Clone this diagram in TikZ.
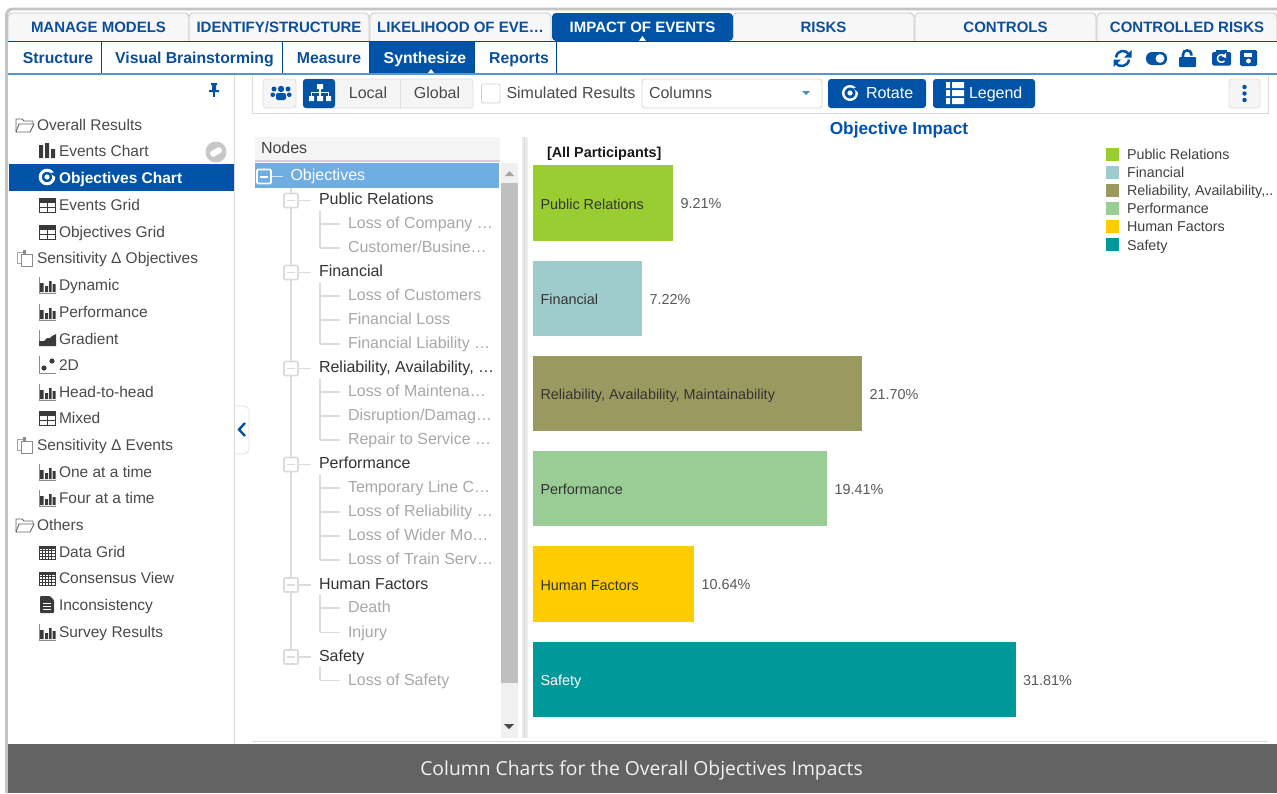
\documentclass[tikz,border=0pt]{standalone}
\usepackage{fontspec}
\setmainfont{Liberation Sans}
\newfontfamily\capfont{Open Sans}
\newcommand{\fsz}[1]{\fontsize{#1}{#1}\selectfont}
\definecolor{ahpblue}{HTML}{0053A6}
\definecolor{tabtext}{HTML}{0B4F9C}
\definecolor{framegray}{HTML}{C4C4C4}
\definecolor{menutext}{HTML}{4A4A4A}
\definecolor{treegray}{HTML}{DCDCDC}
\definecolor{childtext}{HTML}{A8A8A8}
\definecolor{iconink}{HTML}{3A3A3A}
\definecolor{rowblue}{HTML}{6FADE3}
\definecolor{bandgray}{HTML}{636363}
\definecolor{safec}{HTML}{009999}
\tikzset{
  txt/.style={inner sep=0pt,outer sep=0pt,text height=14pt,text depth=3pt},
  tabbox/.style={draw=framegray,line width=.8pt,fill=white!97!black,rounded corners=4pt},
  tablabel/.style={txt,font=\fsz{15}\bfseries,text=tabtext},
  sublabel/.style={txt,font=\fsz{15.8}\bfseries,text=tabtext},
  sep/.style={draw=ahpblue!85!black,line width=.9pt},
  menuitem/.style={txt,anchor=west,font=\fsz{15.5},text=menutext},
  toollabel/.style={txt,font=\fsz{16},text=menutext},
  toolbtn/.style={draw=black!12,line width=.8pt,fill=black!4,rounded corners=3pt},
  treeparent/.style={txt,anchor=west,font=\fsz{16},text=black!80},
  treechild/.style={txt,anchor=west,font=\fsz{16},text=childtext},
  treeline/.style={draw=treegray,line width=1.1pt},
  treebox/.style={draw=treegray,line width=1.6pt,fill=white,rounded corners=1pt,minimum size=14pt,inner sep=0pt,
    path picture={\draw[treegray,line width=1.6pt] ([xshift=-4pt]path picture bounding box.center) -- ([xshift=4pt]path picture bounding box.center);}},
  barlabel/.style={txt,anchor=west,font=\fsz{14.4},text=black!80},
  pct/.style={txt,anchor=west,font=\fsz{14.4},text=black!65},
  legendtext/.style={txt,anchor=west,font=\fsz{14.3},text=black!75},
  ic/.style={iconink},
}
% icons
\newcommand{\icbars}[2]{\begin{scope}[shift={(#1,#2)}]
 \draw[line width=.8pt,black!45] (-8,-8) -- (-8,8) -- (9,8);
 \fill[ic] (-7,-2) rectangle (-3.5,7) (-2,1) rectangle (1,7) (2,-4) rectangle (4.5,7) (5.5,-1) rectangle (8.5,7);
\end{scope}}
\newcommand{\ictable}[2]{\begin{scope}[shift={(#1,#2)}]
 \draw[ic,line width=1pt] (-8,-7) rectangle (8,7) (-8,-2.5) -- (8,-2.5) (-8,2.5) -- (8,2.5) (0,-7) -- (0,7);
 \fill[ic] (-8,-7) rectangle (8,-3.5);
\end{scope}}
\newcommand{\icgrid}[2]{\begin{scope}[shift={(#1,#2)}]
 \draw[ic,line width=.7pt] (-8,-6) rectangle (8,7);
 \foreach \q in {-5,-2,1,4} \draw[ic,line width=.8pt] (\q,-6) -- (\q,7);
 \foreach \q in {-1.5,1.5,4.5} \draw[ic,line width=.8pt] (-8,\q) -- (8,\q);
 \fill[ic] (-8,-6) rectangle (8,-3);
\end{scope}}
\newcommand{\icfolder}[2]{\begin{scope}[shift={(#1,#2)}]
 \draw[black!60,line width=.9pt,line join=round] (-9,7) -- (-9,-6) -- (-3,-6) -- (-1,-4) -- (8,-4) -- (8,-1);
 \draw[black!60,line width=.9pt,line join=round] (-9,7) -- (5,7) -- (9,-1) -- (-6,-1) -- (-9,7);
\end{scope}}
\newcommand{\icclip}[2]{\begin{scope}[shift={(#1,#2)}]
 \draw[black!35,line width=.9pt] (-8,-6) rectangle (-1,5);
 \draw[black!45,line width=.9pt,fill=white] (-4,-4) rectangle (7,8);
 \fill[black!45] (-2,-8) rectangle (1,-3);
\end{scope}}
\begin{document}
\begin{tikzpicture}[x=1pt,y=-1pt]
\useasboundingbox (0,0) rectangle (1277,793);
\fill[white] (0,0) rectangle (1277,793);
% outer frame
\draw[framegray,line width=2.8pt,rounded corners=6pt] (6.5,793) -- (6.5,9) -- (1277,9);
% main tabs
\foreach \nm/\xa/\xb/\lab in {t1/8/189/{MANAGE MODELS},t2/189/369/{IDENTIFY/STRUCTURE},t3/370/551/{LIKELIHOOD OF EVE…},t5/733/914/{RISKS},t6/915/1096/{CONTROLS},t7/1097/1277/{CONTROLLED RISKS}}{
  \draw[tabbox] (\xa,41) -- (\xa,13) -- (\xb,13) -- (\xb,41);
  \node[tablabel] (\nm) at ({(\xa+\xb)/2},26.5) {\lab};
}
\fill[ahpblue,rounded corners=4pt] (552,41) -- (552,13) -- (733,13) -- (733,41) -- cycle;
\node[tablabel,text=white] (t4) at (642.5,26.5) {IMPACT OF EVENTS};
\fill[white] (639,41) -- (642.5,36) -- (646,41) -- cycle;
\draw[ahpblue!85!black,line width=1pt] (8,41.5) -- (1277,41.5);
% sub tabs
\fill[ahpblue] (369,42) rectangle (474,73);
\foreach \q in {101,282,369,474,556} \draw[sep] (\q,42) -- (\q,73);
\draw[rowblue!75!ahpblue,line width=1.6pt] (8,74) -- (1277,74);
\node[sublabel] (s1) at (58,57.5) {Structure};
\node[sublabel] (s2) at (194.5,57.5) {Visual Brainstorming};
\node[sublabel] (s3) at (329,57.5) {Measure};
\node[sublabel,text=white] (s4) at (425,57.5) {Synthesize};
\node[sublabel] (s5) at (519,57.5) {Reports};
\fill[white] (428,73) -- (431,69) -- (434,73) -- cycle;
% right top icons
\begin{scope}[ahpblue]
 \draw[line width=2.5pt] (1116,57.5) .. controls (1117,49.5) and (1126,49.5) .. (1128.5,54);
 \draw[line width=2.5pt] (1129,59.6) .. controls (1128,67.5) and (1118,67.5) .. (1115.5,63);
 \fill (1131.5,50) -- (1131.5,57.5) -- (1124,57.5) -- cycle;
 \fill (1113.5,67) -- (1113.5,59.5) -- (1121,59.5) -- cycle;
 \fill[rounded corners=6pt] (1146,52) rectangle (1167,65);
 \fill[white] (1160,58.5) circle (4.4);
 \fill[rounded corners=1pt] (1179,57) rectangle (1196,67);
 \draw[line width=2.6pt] (1183,58) -- (1183,54.5) .. controls (1183,49) and (1191.4,49) .. (1191.4,54.5) -- (1191.4,55.5);
 \fill[rounded corners=1.5pt] (1212,52) rectangle (1231,65.5);
 \fill (1216,52.5) rectangle (1227,49.5);
 \draw[white,line width=1.5pt] (1224.5,56) .. controls (1222,53.5) and (1217.5,55) .. (1217.5,58.5) .. controls (1217.5,62) and (1222,63.5) .. (1224.5,61);
 \fill[white] (1226,53) -- (1226,58) -- (1222,56.5) -- cycle;
 \fill[rounded corners=1.5pt] (1240,50) rectangle (1257,66);
 \fill[white] (1244,52.5) rectangle (1252,56.5);
 \fill[white] (1248.5,61) circle (2.4);
\end{scope}
% sidebar
\draw[black!15,line width=1pt] (234.5,75) -- (234.5,744);
\begin{scope}[shift={(214,90)}]
 \fill[ahpblue] (-3,-7) rectangle (3,-5) (-2,-5) rectangle (2,0) (-5,0) rectangle (5,2);
 \fill[ahpblue] (-.8,2) rectangle (.8,7);
\end{scope}
\fill[ahpblue] (9,164) rectangle (234,190.5);
\foreach \nm/\yy/\lab in {m1/124.5/{Overall Results},m7/257.5/{Sensitivity Δ Objectives},m14/445/{Sensitivity Δ Events},m17/525/{Others}}{
  \node[menuitem] (\nm) at (37,\yy) {\lab};
}
\foreach \nm/\yy/\lab in {m2/151/{Events Chart},m4/204.5/{Events Grid},m5/231.5/{Objectives Grid},m8/285/{Dynamic},m9/311.5/{Performance},m10/338.5/{Gradient},m11/365/{2D},m12/391.5/{Head-to-head},m13/418/{Mixed},m15/471.5/{One at a time},m16/498/{Four at a time},m18/552/{Data Grid},m19/578/{Consensus View},m20/605/{Inconsistency},m21/632/{Survey Results}}{
  \node[menuitem] (\nm) at (59,\yy) {\lab};
}
\node[menuitem,font=\fsz{15.5}\bfseries,text=white] (m3) at (59,177.5) {Objectives Chart};
\icfolder{25}{125}\icfolder{25}{525}\icclip{25}{258}\icclip{25}{445}
\fill[ic] (39,145) rectangle (43,158) (45,143) rectangle (49,158) (51,149) rectangle (55,158);
\begin{scope}[shift={(47,177)}]
 \draw[white,line width=3pt] (0,0) circle (6.8);
 \fill[white] (0,0) circle (2.6);
 \fill[ahpblue] (3,-4) -- (10,-5) -- (10,1) -- cycle;
\end{scope}
\ictable{47}{205}\ictable{47}{232}\ictable{47}{418}
\icbars{47}{285}\icbars{47}{312}\icbars{47}{392}\icbars{47}{472}\icbars{47}{498}\icbars{47}{632}
\begin{scope}[shift={(47,339)}]
 \draw[black!45,line width=.8pt] (-8,-9) -- (-8,7);
 \fill[ic] (-8,7) -- (-8,2) -- (-3,2) -- (0,-1) -- (3,-1) -- (5,-3) -- (9,-5) -- (9,7) -- cycle;
\end{scope}
\begin{scope}[shift={(47,365)}]
 \draw[black!45,line width=.8pt] (-8,-9) -- (-8,8) -- (9,8);
 \fill[ic] (-3,3) circle (2.6) (5,-4) circle (2.6);
\end{scope}
\icgrid{47}{552}\icgrid{47}{578}
\begin{scope}[shift={(47,605)}]
 \fill[ic,rounded corners=1pt] (-7,-9) -- (3,-9) -- (7,-5) -- (7,8) -- (-7,8) -- cycle;
 \draw[white,line width=.9pt] (-4,-2) -- (4,-2) (-4,1) -- (4,1) (-4,4) -- (4,4);
\end{scope}
\fill[black!22] (216,152) circle (10.5);
\begin{scope}[shift={(216,152)},rotate=30]
 \fill[white,rounded corners=1.5pt] (-6,-3) rectangle (6,3);
\end{scope}
% collapse handle
\draw[black!12,line width=.8pt,fill=white,rounded corners=5pt] (235,406) -- (249,406) -- (249,454) -- (235,454);
\draw[ahpblue,line width=2.4pt] (245,423) -- (239,429.5) -- (245,436);
% toolbar
\draw[black!15,line width=.9pt] (252,76) -- (252,113.5) -- (1268,113.5) -- (1268,76);
\draw[toolbtn] (263,79) rectangle (296,108);
\begin{scope}[shift={(281,93)},ahpblue]
 \fill (0,-4) circle (3.2) (-7,-4) circle (2.5) (7,-4) circle (2.5);
 \fill[rounded corners=2pt] (-5,7) rectangle (5,0) (-10.5,4) rectangle (-6,-.5) (6,4) rectangle (10.5,-.5);
\end{scope}
\draw[toolbtn] (303,79) rectangle (473,108);
\fill[ahpblue,rounded corners=3pt] (303,79) rectangle (335,108);
\draw[black!12,line width=.8pt] (400.5,79) -- (400.5,108);
\begin{scope}[shift={(320,93)},white]
 \fill (-3,-9) rectangle (3,-4) (-11,3) rectangle (-6,8) (-3,3) rectangle (3,8) (6,3) rectangle (11,8);
 \draw[line width=1.3pt] (0,-4) -- (0,3) (-8.5,3) -- (-8.5,-.5) -- (8.5,-.5) -- (8.5,3);
\end{scope}
\node[toollabel] (local) at (368,93) {Local};
\node[toollabel] (global) at (437,93) {Global};
\draw[black!18,line width=.9pt,rounded corners=2pt,fill=white] (481.5,84) rectangle (500,103);
\node[toollabel,anchor=west] (sim) at (506.5,93) {Simulated Results};
\draw[black!15,line width=.9pt,rounded corners=3pt,fill=white] (642,79) rectangle (822,108);
\node[toollabel,anchor=west] (cols) at (649,93) {Columns};
\fill[ahpblue!70] (802,91) -- (810,91) -- (806,95) -- cycle;
\fill[ahpblue,rounded corners=3pt] (828,79) rectangle (926,108);
\fill[ahpblue,rounded corners=3pt] (933,79) rectangle (1035,108);
\draw[white,line width=2.4pt] (850,93) circle (6.8);
\fill[white] (850,93) circle (2.6);
\fill[ahpblue] (853,88) -- (860,87) -- (860,94) -- cycle;
\node[toollabel,anchor=west,text=white] (rot) at (866,93) {Rotate};
\fill[white] (946,82) rectangle (950,88) (952,82) rectangle (964,88)
  (946,90) rectangle (950,96) (952,90) rectangle (964,96)
  (946,98) rectangle (950,104) (952,98) rectangle (964,104);
\node[toollabel,anchor=west,text=white] (leg) at (969,93) {Legend};
\draw[toolbtn] (1229,79) rectangle (1260,108);
\fill[ahpblue] (1244.5,87) circle (2.2) (1244.5,93.5) circle (2.2) (1244.5,100) circle (2.2);
% tree panel
\fill[black!4] (255,137) rectangle (500,160);
\draw[black!18,line width=1.4pt] (255,161) -- (500,161);
\node[txt,anchor=west,font=\fsz{16},text=black!75] (nodes) at (261,148) {Nodes};
\fill[black!6] (501,163) rectangle (518,738);
\fill[black!25] (501,183) rectangle (518,683);
\fill[black!35] (505,176) -- (509.5,171) -- (514,176) -- cycle;
\fill[black!70] (504,724) -- (514,724) -- (509,729) -- cycle;
\fill[black!8] (522,137) rectangle (528,738);
\draw[black!15,line width=.8pt] (524,137) -- (524,738);
\fill[rowblue] (255,163) rectangle (499,188);
\coordinate (trunkstart) at (291,188);
\coordinate (trunkend) at (291,649);
\draw[treeline] (trunkstart) -- (trunkend);
\node[treebox,draw=white,fill=rowblue,path picture={\draw[white,line width=2pt] ([xshift=-4pt]path picture bounding box.center) -- ([xshift=4pt]path picture bounding box.center);}] (objbox) at (264,176.5) {};
\node[treeparent,text=white] (obj) at (290.5,175) {Objectives};
\draw[treeline,shorten >=8pt,draw=white!70!rowblue] (objbox.east) -- (obj.west |- objbox.east);
\foreach \nm/\yy/\lab in {pr/199/{Public Relations},fin/271/{Financial},rel/367/{Reliability, Availability, …},perf/463/{Performance},hf/583.5/{Human Factors},saf/655.5/{Safety}}{
  \node[treebox] (\nm box) at (291,\yy+1.5) {};
  \node[treeparent] (\nm) at (319,\yy) {\lab};
  \draw[treeline,shorten >=8pt] (\nm box.east) -- (\nm.west |- \nm box.east);
}
\foreach \nm/\ya/\yb in {pr/211/248,fin/283/344,rel/379/440,perf/475/560,hf/595/632,saf/667/680}{
  \coordinate (\nm top) at (320,\ya);
  \coordinate (\nm bot) at (320,\yb);
  \draw[treeline] (\nm top) -- (\nm bot);
}
\foreach \nm/\yy/\lab in {c1/223/{Loss of Company …},c2/247/{Customer/Busine…},c3/295/{Loss of Customers},c4/319/{Financial Loss},c5/343/{Financial Liability …},c6/391/{Loss of Maintena…},c7/415/{Disruption/Damag…},c8/439/{Repair to Service …},c9/487/{Temporary Line C…},c10/511/{Loss of Reliability …},c11/535/{Loss of Wider Mo…},c12/559/{Loss of Train Serv…},c13/607/{Death},c14/631.5/{Injury},c15/679.5/{Loss of Safety}}{
  \node[treechild] (\nm) at (348,\yy) {\lab};
  \coordinate (\nm stub) at (320,\yy+1);
  \draw[treeline,shorten >=8pt] (\nm stub) -- (\nm.west |- \nm stub);
}
% chart
\node[txt,font=\fsz{17.3}\bfseries,text=ahpblue] (title) at (899,129) {Objective Impact};
\node[txt,anchor=west,font=\fsz{14.4}\bfseries,text=black!90] (allp) at (547,152) {[All Participants]};
\foreach \nm/\col/\ya/\yb/\xb/\lab/\val in {
  b1/9ACD32/165/241/673/{Public Relations}/{9.21\%},
  b2/9ECCCC/261/336/642/{Financial}/{7.22\%},
  b3/9A9A60/356/431/862/{Reliability, Availability, Maintainability}/{21.70\%},
  b4/9ACC96/451/526/827/{Performance}/{19.41\%},
  b5/FFCC00/546/622/694/{Human Factors}/{10.64\%}}{
  \definecolor{barc}{HTML}{\col}
  \fill[barc] (533,\ya) rectangle (\xb,\yb);
  \node[barlabel] (\nm) at (540.5,{(\ya+\yb)/2+.5}) {\lab};
  \node[pct] (\nm v) at (\xb+7.5,{(\ya+\yb)/2}) {\val};
}
\fill[safec] (533,642) rectangle (1016,717);
\node[barlabel,text=white] (b6) at (540.5,680) {Safety};
\node[pct] (b6v) at (1023,679.5) {31.81\%};
% legend
\foreach \nm/\col/\yy/\lab in {
  l1/9ACD32/154/{Public Relations},
  l2/9ECCCC/172/{Financial},
  l3/9A9A60/190/{Reliability, Availability,..},
  l4/9ACC96/208/{Performance},
  l5/FFCC00/226/{Human Factors},
  l6/009999/244.5/{Safety}}{
  \definecolor{barc}{HTML}{\col}
  \fill[barc] (1106,\yy-6.5) rectangle (1119,\yy+6.5);
  \node[legendtext] (\nm) at (1127,\yy) {\lab};
}
% caption
\draw[black!15,line width=.8pt] (252,741) -- (1268,741);
\fill[bandgray] (8,744) rectangle (1277,793);
\node[inner sep=0pt,font=\capfont\fsz{19.3},text=white!95!black] (caption) at (641.5,770) {Column Charts for the Overall Objectives Impacts};
\end{tikzpicture}
\end{document}
